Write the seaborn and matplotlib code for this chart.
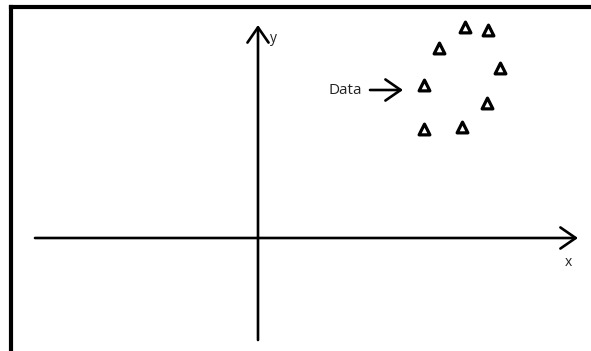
import matplotlib
matplotlib.use("Agg")
import matplotlib.pyplot as plt
import seaborn as sns
import pandas as pd

# data points (origin at the axes crossing, units ~ pixels)
data_x = [207, 230, 181, 242, 166, 229, 204, 166]
data_y = [211, 208, 190, 170, 153, 135, 111, 109]
axis_labels = ["x", "y"]
pointer_label = "Data"

sns.set_theme(style="white")
plt.rcParams['font.family'] = ['Open Sans', 'DejaVu Sans']

df = pd.DataFrame({"x": data_x, "y": data_y})

fig = plt.figure(figsize=(5.91, 3.51), dpi=100)
ax = fig.add_axes([10.5 / 591, 0, 1 - 10.5 / 591, 1 - 7 / 351])
ax.set_xlim(-247.5, 333)
ax.set_ylim(-113, 231)

# frame: only left and top edges visible
for side in ["right", "bottom"]:
    ax.spines[side].set_visible(False)
for side in ["left", "top"]:
    ax.spines[side].set_color("black")
    ax.spines[side].set_linewidth(3)
ax.set_xticks([])
ax.set_yticks([])

arrow = dict(arrowstyle="->,head_length=0.55,head_width=0.38", lw=1.9,
             color="black", mutation_scale=20, shrinkA=0, shrinkB=0)

# coordinate axes
ax.annotate("", xy=(320, 0), xytext=(-223, 0), arrowprops=arrow)
ax.annotate("", xy=(0, 213), xytext=(0, -102), arrowprops=arrow)
ax.text(310, -25, axis_labels[0], fontsize=10, ha="center", va="center", color="#222222")
ax.text(15, 200, axis_labels[1], fontsize=10, ha="center", va="center", color="#222222")

# data
sns.scatterplot(data=df, x="x", y="y", marker="^", s=60, facecolor="white",
                edgecolor="black", linewidth=2.3, ax=ax, legend=False)

# pointer
ax.text(70, 148, pointer_label, fontsize=11, ha="left", va="center", color="#222222")
ax.annotate("", xy=(145, 148), xytext=(112, 148), arrowprops=arrow)

ax.set_xlabel("")
ax.set_ylabel("")
fig.savefig("out.png", dpi=100)
